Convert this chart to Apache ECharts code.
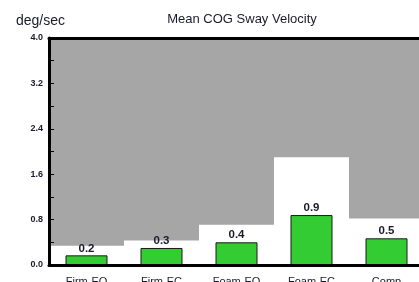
<!DOCTYPE html>
<html>
<head>
<meta charset="utf-8">
<script src="https://cdn.jsdelivr.net/npm/echarts@6/dist/echarts.min.js"></script>
<style>
  html, body { margin: 0; padding: 0; background: #fff; }
  #chart { width: 419px; height: 282px; }
</style>
</head>
<body>
<div id="chart"></div>
<script>
// conditions and measured sway velocity (deg/sec)
const categories = ["Firm-EO", "Firm-EC", "Foam-EO", "Foam-EC", "Comp"];
const swayValues = [0.17, 0.30, 0.40, 0.88, 0.47];
// upper normal limit per condition (white area below, gray above)
const normLimits = [0.34, 0.43, 0.71, 1.90, 0.82];
const yMax = 4.0;
const fullRange = categories.map(() => yMax);

const chart = echarts.init(document.getElementById("chart"));

const axisText = { color: "#1a1a2a", fontFamily: "Liberation Sans" };

chart.setOption({
  animation: false,
  title: [
    {
      text: "Mean COG Sway Velocity",
      left: 237,
      top: 8,
      textAlign: "center",
      textStyle: { ...axisText, fontSize: 13, fontWeight: "normal" }
    },
    {
      text: "deg/sec",
      left: 11,
      top: 9,
      textStyle: { ...axisText, fontSize: 14, fontWeight: "normal" }
    }
  ],
  // labels run off the bottom edge like in the original, so no auto-fit
  grid: { left: 49, top: 38, right: -5, bottom: 17, outerBoundsMode: "none", containLabel: false },
  xAxis: [
    {
      type: "category",
      data: categories,
      z: 10,
      axisLine: { lineStyle: { color: "#000", width: 3 } },
      axisTick: { alignWithLabel: true, length: 6, lineStyle: { color: "#333" } },
      axisLabel: { ...axisText, fontSize: 11, margin: 11 }
    },
    {
      type: "category",
      data: categories,
      position: "top",
      z: 10,
      axisLine: { lineStyle: { color: "#000", width: 3 } },
      axisTick: { show: false },
      axisLabel: { show: false }
    }
  ],
  yAxis: {
    type: "value",
    min: 0,
    max: yMax,
    interval: 0.8,
    z: 10,
    axisLine: { show: true, lineStyle: { color: "#000", width: 3 } },
    axisTick: { show: true, inside: true, length: 5, lineStyle: { color: "#000" } },
    minorTick: { show: true, splitNumber: 2, length: 5, lineStyle: { color: "#000" } },
    splitLine: { show: false },
    axisLabel: {
      ...axisText,
      fontSize: 9,
      fontWeight: "bold",
      margin: 6,
      formatter: v => v.toFixed(1)
    }
  },
  series: [
    {
      type: "bar",
      xAxisIndex: 1,
      data: fullRange,
      barWidth: "100%",
      barGap: "-100%",
      itemStyle: { color: "#a6a6a6" },
      silent: true,
      z: 1
    },
    {
      type: "bar",
      xAxisIndex: 1,
      data: normLimits,
      barWidth: "100%",
      barGap: "-100%",
      itemStyle: { color: "#ffffff" },
      silent: true,
      z: 2
    },
    {
      type: "bar",
      xAxisIndex: 0,
      data: swayValues,
      barWidth: 42,
      z: 3,
      itemStyle: { color: "#33cc33", borderColor: "#1a1a1a", borderWidth: 1 },
      label: {
        show: true,
        position: "top",
        distance: 1,
        ...axisText,
        fontSize: 11.5,
        fontWeight: "bold",
        formatter: p => p.value.toFixed(1)
      }
    }
  ]
});
</script>
</body>
</html>
